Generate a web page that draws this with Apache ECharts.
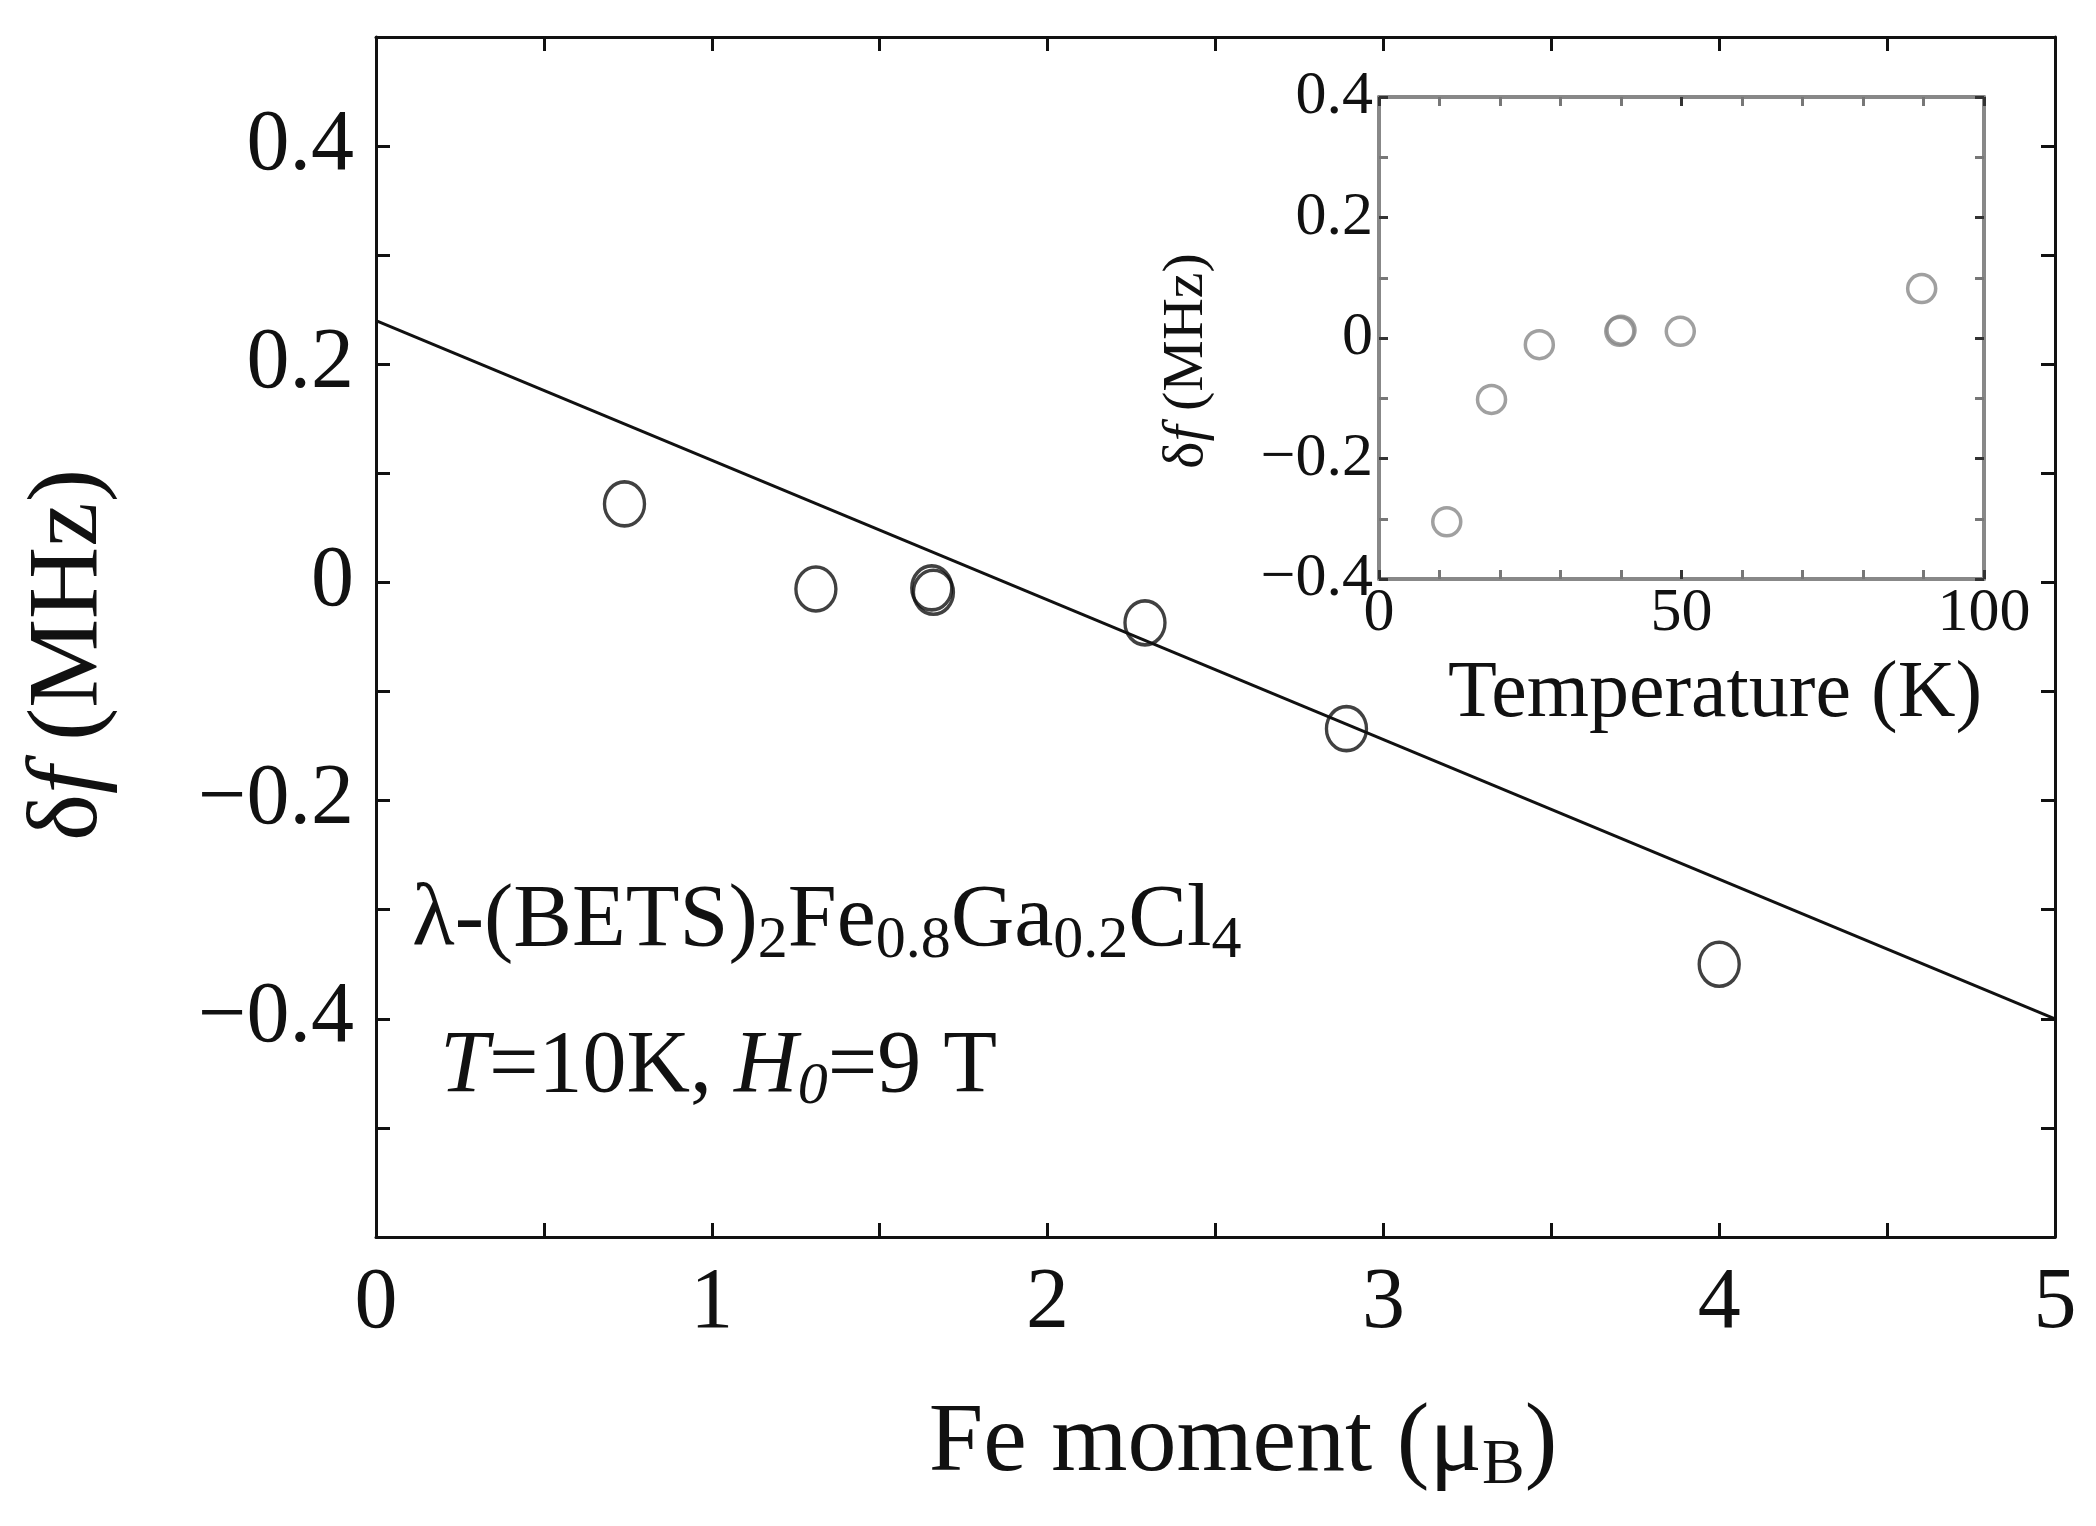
<!DOCTYPE html>
<html><head><meta charset="utf-8">
<script src="https://cdn.jsdelivr.net/npm/echarts@6/dist/echarts.min.js"></script>
<style>html,body{margin:0;padding:0;background:#fff}#c{width:2096px;height:1526px}</style>
</head><body><div id="c"></div>
<script>
const moment = [0.74, 1.31, 1.655, 1.66, 2.29, 2.89, 4.0];
const shift = [0.072, -0.006, -0.005, -0.009, -0.037, -0.134, -0.350];
const fitX = [0, 5];
const fitY = [0.24, -0.40];
const temp = [11.2, 18.6, 26.5, 39.8, 40.0, 49.8, 89.7];
const tShift = [-0.305, -0.102, -0.011, 0.011, 0.013, 0.011, 0.082];
const mainYTicks = [-0.4, -0.2, 0, 0.2, 0.4];

const F = 'Liberation Serif';
const chart = echarts.init(document.getElementById('c'));
const fmtY = v => { const r = Math.round(v*10)/10; if (!mainYTicks.some(t => Math.abs(t-r)<1e-9) || Math.abs(v-r)>1e-6) return ''; return r===0?'0':(r<0?'\u2212'+Math.abs(r).toFixed(1):r.toFixed(1)); };
function ax(extra){ return Object.assign({
  axisLine:{show:true,onZero:false,lineStyle:{color:'#111',width:3}},
  axisTick:{show:true,inside:true,length:14,lineStyle:{color:'#111',width:3}},
  minorTick:{show:true,splitNumber:2,length:14,lineStyle:{color:'#111',width:3}},
  splitLine:{show:false}}, extra); }
function iax(extra){ return Object.assign({
  axisLine:{show:true,onZero:false,lineStyle:{color:'#888',width:4}},
  axisTick:{show:true,inside:true,length:9,lineStyle:{color:'#333',width:3}},
  minorTick:{show:true,splitNumber:5,length:9,lineStyle:{color:'#777',width:3}},
  splitLine:{show:false}}, extra); }
const noLab = {show:false};
chart.setOption({
  animation:false,
  grid:[{left:376,right:2096-2055,top:37,bottom:1526-1237},
        {left:1379,right:2096-1984,top:97,bottom:1526-579,show:true,backgroundColor:'#fff',borderWidth:0,z:5}],
  xAxis:[
    ax({type:'value',gridIndex:0,min:0,max:5,interval:1,position:'bottom',axisLabel:{fontFamily:F,fontSize:86,color:'#111',margin:24}}),
    ax({type:'value',gridIndex:0,min:0,max:5,interval:1,position:'top',axisLabel:noLab}),
    iax({type:'value',gridIndex:1,min:0,max:100,interval:50,position:'bottom',z:6,axisLabel:{fontFamily:F,fontSize:62,color:'#111',margin:4}}),
    iax({type:'value',gridIndex:1,min:0,max:100,interval:50,position:'top',z:6,axisLabel:noLab})
  ],
  yAxis:[
    ax({type:'value',gridIndex:0,min:-0.6,max:0.5,interval:0.1,position:'left',minorTick:{show:false},axisLabel:{fontFamily:F,fontSize:86,color:'#111',margin:22,formatter:fmtY,showMinLabel:true,showMaxLabel:true}}),
    ax({type:'value',gridIndex:0,min:-0.6,max:0.5,interval:0.1,position:'right',minorTick:{show:false},axisLabel:noLab}),
    iax({type:'value',gridIndex:1,min:-0.4,max:0.4,interval:0.2,position:'left',z:6,minorTick:{show:true,splitNumber:2,length:9,lineStyle:{color:'#777',width:3}},axisLabel:{fontFamily:F,fontSize:62,color:'#111',margin:6,formatter:v=>v===0?'0':(v<0?'\u2212'+Math.abs(v).toFixed(1):v.toFixed(1))}}),
    iax({type:'value',gridIndex:1,min:-0.4,max:0.4,interval:0.2,position:'right',z:6,minorTick:{show:true,splitNumber:2,length:9,lineStyle:{color:'#777',width:3}},axisLabel:noLab})
  ],
  series:[
    {type:'line',xAxisIndex:0,yAxisIndex:0,data:fitX.map((x,i)=>[x,fitY[i]]),symbol:'none',lineStyle:{color:'#111',width:3},z:2},
    {type:'scatter',xAxisIndex:0,yAxisIndex:0,data:moment.map((x,i)=>[x,shift[i]]),symbol:'circle',symbolSize:[40,44],itemStyle:{color:'rgba(255,255,255,0)',borderColor:'#111',borderWidth:3.5},z:3},
    {type:'scatter',xAxisIndex:2,yAxisIndex:2,data:temp.map((x,i)=>[x,tShift[i]]),symbol:'circle',symbolSize:28,itemStyle:{color:'rgba(255,255,255,0)',borderColor:'#888',borderWidth:3.5},z:7}
  ],
  graphic:[
    {type:'text',x:70,y:655,rotation:Math.PI/2,style:{text:'{n|δ}{i|f}{n| (MHz)}',align:'center',verticalAlign:'middle',rich:{n:{fontFamily:F,fontSize:100,fill:'#111'},i:{fontFamily:F,fontSize:100,fontStyle:'italic',fill:'#111'}}}},
    {type:'text',x:1243,y:1444,style:{text:'{n|Fe moment (μ}{s|B}{n|)}',align:'center',verticalAlign:'middle',rich:{n:{fontFamily:F,fontSize:98,fill:'#111'},s:{fontFamily:F,fontSize:64,fill:'#111',padding:[44,0,0,0]}}}},
    {type:'text',x:412,y:922,style:{text:'{n|λ-(BETS)}{s|2}{n|Fe}{s|0.8}{n|Ga}{s|0.2}{n|Cl}{s|4}',verticalAlign:'middle',rich:{n:{fontFamily:F,fontSize:88,fill:'#111'},s:{fontFamily:F,fontSize:60,fill:'#111',padding:[38,0,0,0]}}}},
    {type:'text',x:440,y:1068,style:{text:'{i|T}{n|=10K, }{i|H}{s|0}{n|=9 T}',verticalAlign:'middle',rich:{n:{fontFamily:F,fontSize:88,fill:'#111'},i:{fontFamily:F,fontSize:88,fontStyle:'italic',fill:'#111'},s:{fontFamily:F,fontSize:60,fontStyle:'italic',fill:'#111',padding:[38,0,0,0]}}}},
    {type:'text',x:1187,y:361,rotation:Math.PI/2,z:10,style:{text:'{n|δ}{i|f}{n| (MHz)}',align:'center',verticalAlign:'middle',rich:{n:{fontFamily:F,fontSize:58,fill:'#111'},i:{fontFamily:F,fontSize:58,fontStyle:'italic',fill:'#111'}}}},
    {type:'text',x:1715,y:695,z:10,style:{text:'Temperature (K)',align:'center',verticalAlign:'middle',fontFamily:F,fontSize:80,fill:'#111'}}
  ]
});
</script></body></html>
